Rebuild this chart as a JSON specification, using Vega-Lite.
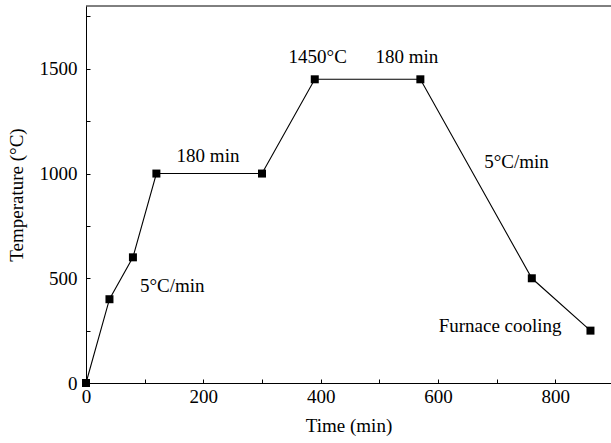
{
  "$schema": "https://vega.github.io/schema/vega-lite/v6.json",
  "width": 525,
  "height": 377,
  "autosize": "none",
  "padding": {"left": 86, "top": 6, "right": 0, "bottom": 60},
  "background": "white",
  "config": {
    "view": {"stroke": null},
    "font": "Liberation Serif",
    "axis": {"labelFont": "Liberation Serif", "titleFont": "Liberation Serif", "labelColor": "black", "titleColor": "black", "domainColor": "black", "tickColor": "black", "labelFontSize": 19, "titleFontSize": 19, "titleFontWeight": "normal", "grid": false}
  },
  "datasets": {
    "profile": [
      {"time": 0, "temp": 0},
      {"time": 40, "temp": 400},
      {"time": 80, "temp": 600},
      {"time": 120, "temp": 1000},
      {"time": 300, "temp": 1000},
      {"time": 390, "temp": 1450},
      {"time": 570, "temp": 1450},
      {"time": 760, "temp": 500},
      {"time": 860, "temp": 250}
    ],
    "notes": [
      {"time": 395, "temp": 1557, "label": "1450°C"},
      {"time": 547, "temp": 1557, "label": "180 min"},
      {"time": 208, "temp": 1084, "label": "180 min"},
      {"time": 147, "temp": 462, "label": "5°C/min"},
      {"time": 734, "temp": 1054, "label": "5°C/min"},
      {"time": 706, "temp": 274, "label": "Furnace cooling"}
    ]
  },
  "encoding": {
    "x": {"field": "time", "type": "quantitative"},
    "y": {"field": "temp", "type": "quantitative"}
  },
  "layer": [
    {
      "data": {"name": "profile"},
      "mark": {"type": "line", "color": "black", "strokeWidth": 1.1},
      "encoding": {
        "x": {"field": "time", "type": "quantitative", "scale": {"domain": [0, 895], "nice": false, "zero": false},
          "axis": {"title": "Time (min)", "format": "d", "values": [0, 100, 200, 300, 400, 500, 600, 700, 800], "labelExpr": "datum.value % 200 == 0 ? datum.label : ''", "tickSize": -4, "labelPadding": 8, "titlePadding": 10, "titleFontWeight": "normal", "labelFlush": false}},
        "y": {"field": "temp", "type": "quantitative", "scale": {"domain": [0, 1800], "nice": false},
          "axis": {"title": "Temperature (°C)", "format": "d", "values": [0, 250, 500, 750, 1000, 1250, 1500, 1750], "labelExpr": "datum.value % 500 == 0 ? datum.label : ''", "tickSize": -4, "labelPadding": 13, "titlePadding": 13, "titleFontWeight": "normal", "labelFlush": false}}
      }
    },
    {
      "data": {"name": "profile"},
      "mark": {"type": "point", "shape": "square", "filled": true, "color": "black", "size": 64, "opacity": 1}
    },
    {
      "data": {"name": "notes"},
      "mark": {"type": "text", "font": "Liberation Serif", "fontSize": 19, "color": "black", "baseline": "middle", "align": "center"},
      "encoding": {"text": {"field": "label"}}
    },
    {
      "data": {"values": [{"time": 0}]},
      "mark": {"type": "rule", "color": "black", "strokeWidth": 1},
      "encoding": {"x": {"value": 0}, "x2": {"value": 525}, "y": {"value": 0}}
    }
  ]
}
